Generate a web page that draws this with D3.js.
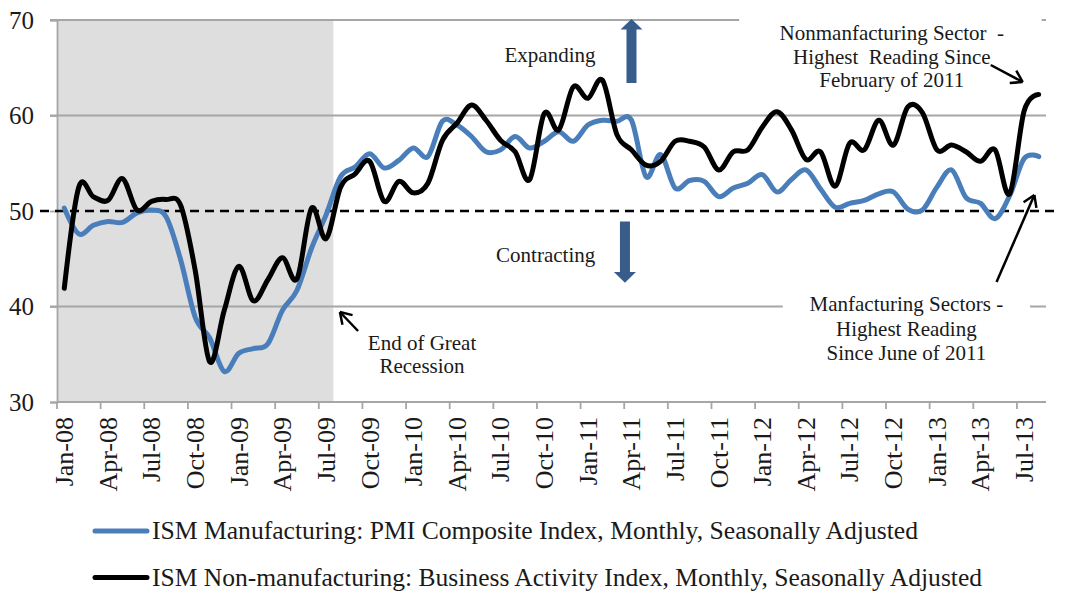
<!DOCTYPE html>
<meta charset="utf-8">
<style>
body { margin: 0; background: #fff; }
text { font-family: "Liberation Serif", "DejaVu Serif", serif; fill: #1a1a1a; }
.grid line { stroke: #a6a6a6; stroke-width: 1.8; }
.axis path, .axis line { stroke: #a6a6a6; stroke-width: 1.8; }
.ann { font-size: 21px; white-space: pre; }
</style>
<svg width="1066" height="592"></svg>
<script src="https://d3js.org/d3.v7.min.js"></script>
<script>
// months Jan-08 .. Aug-13
var months = d3.timeMonth.range(new Date(2008, 0, 1), new Date(2013, 8, 1)).map(d3.timeFormat("%b-%y"));

var tickLabels = ["Jan-08","Apr-08","Jul-08","Oct-08","Jan-09","Apr-09","Jul-09","Oct-09",
  "Jan-10","Apr-10","Jul-10","Oct-10","Jan-11","Apr-11","Jul-11","Oct-11",
  "Jan-12","Apr-12","Jul-12","Oct-12","Jan-13","Apr-13","Jul-13"];

var yTicks = [30, 40, 50, 60, 70];

// ISM Manufacturing PMI
var manufacturing = [50.3,47.6,48.5,48.9,48.8,49.8,50.1,49.4,44.9,38.9,36.7,33.2,
  35.1,35.6,36.1,39.6,41.7,46.1,49.6,53.6,54.6,56.0,54.5,55.3,
  56.6,55.7,59.4,59.0,57.8,56.2,56.4,57.8,56.6,57.3,58.3,57.3,
  59.0,59.5,59.4,59.5,53.6,55.9,52.4,53.2,53.1,51.5,52.4,52.9,
  53.8,52.0,53.3,54.3,52.3,50.4,50.8,51.1,51.8,52.0,50.2,50.1,
  52.5,54.3,51.4,50.8,49.2,51.6,55.5,55.7];

// ISM Non-manufacturing business activity
var nonManufacturing = [41.9,52.5,51.5,51.1,53.4,50.1,51.0,51.2,50.6,43.8,34.2,39.6,
  44.2,40.6,42.8,45.1,42.9,50.3,47.1,52.5,53.9,55.2,51.0,53.1,
  51.9,52.9,57.4,59.2,61.1,59.5,57.4,56.2,53.3,60.2,58.5,63.0,
  61.8,63.7,58.0,56.4,54.8,55.2,57.3,57.3,56.7,54.3,56.2,56.4,
  58.8,60.4,58.5,55.4,56.2,52.6,57.1,56.4,59.5,56.9,60.9,60.3,
  56.4,56.9,56.2,55.2,56.4,51.8,60.5,62.2];

var recessionEnd = "Jul-09";
var threshold = 50;

var legendNames = ["ISM Manufacturing: PMI Composite Index, Monthly, Seasonally Adjusted",
  "ISM Non-manufacturing: Business Activity Index, Monthly, Seasonally Adjusted"];
var colors = ["#4a7ebb", "#000000"];

var svg = d3.select("svg"),
    margin = {top: 20, right: 20, bottom: 190, left: 57},
    width = +svg.attr("width") - margin.left - margin.right,
    height = +svg.attr("height") - margin.top - margin.bottom;

var x = d3.scaleBand().domain(months).range([margin.left, margin.left + width]).padding(0);
var y = d3.scaleLinear().domain([30, 70]).range([margin.top + height, margin.top]);
var bw = x.bandwidth();
// fractional month position for annotations
var xm = function(m) { return margin.left + m * bw; };

svg.append("defs").append("marker")
    .attr("id", "open")
    .attr("markerUnits", "userSpaceOnUse")
    .attr("markerWidth", 30).attr("markerHeight", 30)
    .attr("refX", 15).attr("refY", 15)
    .attr("orient", "auto")
  .append("path")
    .attr("d", "M15,15 L4,8 M15,15 L4,22")
    .attr("fill", "none").attr("stroke", "#000").attr("stroke-width", 2.5);

// recession shading
svg.append("rect")
    .attr("x", x(months[0]))
    .attr("y", y(70))
    .attr("width", x(recessionEnd) + bw - x(months[0]))
    .attr("height", y(30) - y(70))
    .attr("fill", "#dedede");

// gridlines
svg.append("g").attr("class", "grid")
  .selectAll("line")
  .data(yTicks.filter(function(d) { return d !== 50 && d !== 30; }))
  .enter().append("line")
    .attr("x1", margin.left - 7).attr("x2", margin.left + width)
    .attr("y1", function(d) { return y(d); }).attr("y2", function(d) { return y(d); });

// white boxes behind the right-hand notes
svg.append("rect").attr("x", xm(46.9)).attr("y", 12).attr("width", xm(67.7) - xm(46.9)).attr("height", 76).attr("fill", "#fff");
svg.append("rect").attr("x", xm(49.9)).attr("y", y(41.7)).attr("width", xm(66.9) - xm(49.9)).attr("height", 78).attr("fill", "#fff");

// y axis
var yAxis = svg.append("g").attr("class", "axis")
    .attr("transform", "translate(" + margin.left + ",0)")
    .call(d3.axisLeft(y).tickValues(yTicks).tickSize(7).tickPadding(16).tickFormat(d3.format("d")));
yAxis.selectAll("text").style("font-size", "25px").attr("fill", "#1a1a1a");

// x axis
var xAxis = svg.append("g").attr("class", "axis")
    .attr("transform", "translate(0," + (margin.top + height) + ")");
xAxis.append("line")
    .attr("x1", margin.left).attr("x2", margin.left + width);
xAxis.selectAll(".tick")
  .data(tickLabels)
  .enter().append("line")
    .attr("x1", function(d) { return x(d); }).attr("x2", function(d) { return x(d); })
    .attr("y1", 0).attr("y2", 7);
xAxis.selectAll(".lbl")
  .data(tickLabels)
  .enter().append("text")
    .attr("class", "lbl")
    .attr("transform", function(d) { return "translate(" + (x(d) + bw / 2) + ",15) rotate(-90)"; })
    .attr("dy", "0.34em")
    .attr("text-anchor", "end")
    .style("font-size", "26px")
    .text(function(d) { return d; });

// 50 line
svg.append("line")
    .attr("x1", 40).attr("x2", 1060)
    .attr("y1", y(threshold)).attr("y2", y(threshold))
    .attr("stroke", "#000").attr("stroke-width", 2.5)
    .attr("stroke-dasharray", "9,6");

var line = d3.line()
    .x(function(d, i) { return x(months[i]) + bw / 2; })
    .y(function(d) { return y(d); })
    .curve(d3.curveCatmullRom.alpha(0));

[manufacturing, nonManufacturing].forEach(function(s, k) {
  svg.append("path")
      .datum(s)
      .attr("fill", "none")
      .attr("stroke", colors[k])
      .attr("stroke-width", 5)
      .attr("stroke-linejoin", "round")
      .attr("stroke-linecap", "round")
      .attr("d", line);
});

// expanding / contracting arrows
var arrowColor = "#385d8a";
var ax1 = xm(39.5);
svg.append("path")
    .attr("d", "M" + (ax1 - 5) + "," + y(63.4) + "V" + y(69.0) + "H" + (ax1 - 11) + "L" + ax1 + "," + y(70.1) +
      "L" + (ax1 + 11) + "," + y(69.0) + "H" + (ax1 + 5) + "V" + y(63.4) + "Z")
    .attr("fill", arrowColor);
var ax2 = xm(39.05);
svg.append("path")
    .attr("d", "M" + (ax2 - 5) + "," + y(48.9) + "V" + y(43.6) + "H" + (ax2 - 11) + "L" + ax2 + "," + y(42.5) +
      "L" + (ax2 + 11) + "," + y(43.6) + "H" + (ax2 + 5) + "V" + y(48.9) + "Z")
    .attr("fill", arrowColor);

svg.append("text").attr("class", "ann").attr("x", xm(33.9)).attr("y", 62).attr("text-anchor", "middle").text("Expanding");
svg.append("text").attr("class", "ann").attr("x", xm(33.6)).attr("y", 262).attr("text-anchor", "middle").text("Contracting");

svg.append("text").attr("class", "ann").attr("x", xm(25.1)).attr("y", 350).attr("text-anchor", "middle").text("End of Great");
svg.append("text").attr("class", "ann").attr("x", xm(25.1)).attr("y", 373).attr("text-anchor", "middle").text("Recession");

var topNote = ["Nonmanfacturing Sector  -", "Highest  Reading Since", "February of 2011"];
svg.selectAll(".topnote").data(topNote).enter().append("text")
    .attr("class", "ann topnote")
    .attr("x", xm(57.4)).attr("y", function(d, i) { return 40 + i * 23.6; })
    .attr("text-anchor", "middle").text(function(d) { return d; });

var botNote = ["Manfacturing Sectors -", "Highest Reading", "Since June of 2011"];
svg.selectAll(".botnote").data(botNote).enter().append("text")
    .attr("class", "ann botnote")
    .attr("x", xm(58.4)).attr("y", function(d, i) { return 311 + i * 24.5; })
    .attr("text-anchor", "middle").text(function(d) { return d; });

// pointer arrows
var pointers = [
  [xm(20.7), 331, xm(19.45), 312],
  [xm(64.2), 65, xm(66.4), 82],
  [xm(64.6), 282, xm(67.2), 195]
];
svg.selectAll(".ptr").data(pointers).enter().append("line")
    .attr("x1", function(d) { return d[0]; }).attr("y1", function(d) { return d[1]; })
    .attr("x2", function(d) { return d[2]; }).attr("y2", function(d) { return d[3]; })
    .attr("stroke", "#000").attr("stroke-width", 2.5)
    .attr("marker-end", "url(#open)");

// legend
var legend = svg.selectAll(".legend").data(legendNames).enter().append("g")
    .attr("transform", function(d, i) { return "translate(0," + (531 + i * 46.5) + ")"; });
legend.append("line")
    .attr("x1", 95).attr("x2", 147)
    .attr("stroke", function(d, i) { return colors[i]; })
    .attr("stroke-width", 5).attr("stroke-linecap", "round");
legend.append("text")
    .attr("x", 152).attr("y", 8)
    .attr("textLength", function(d, i) { return i ? 830 : 766; })
    .attr("lengthAdjust", "spacingAndGlyphs")
    .style("font-size", "25px")
    .text(function(d) { return d; });
</script>
